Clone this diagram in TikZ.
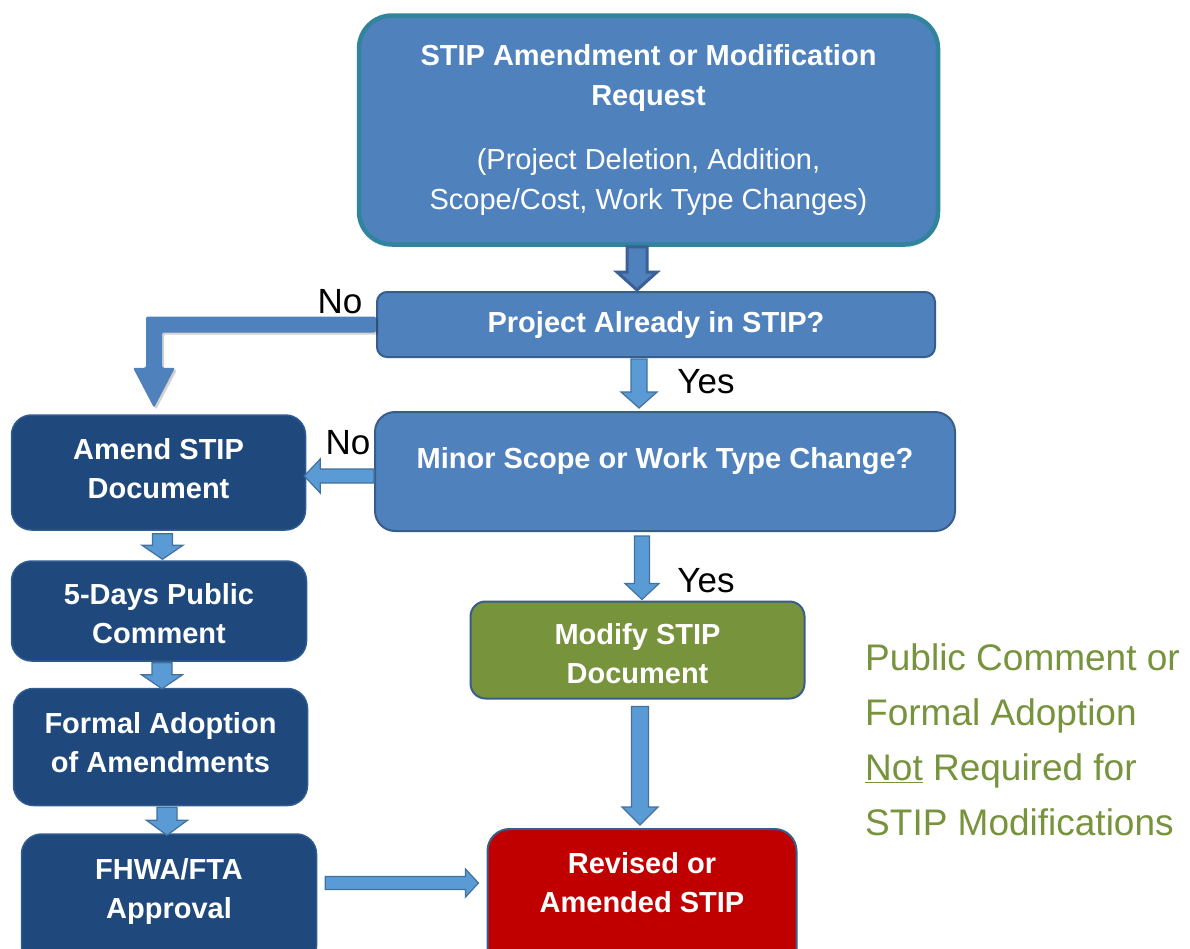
\documentclass[tikz,border=0pt]{standalone}
\usepackage{fontspec}
\setmainfont{Liberation Sans}
\usetikzlibrary{calc,shadows}
\definecolor{medblue}{HTML}{4F81BD}
\definecolor{medborder}{HTML}{385D8A}
\definecolor{tealborder}{HTML}{31849B}
\definecolor{darkb}{HTML}{1F497D}
\definecolor{darkborder}{HTML}{2F5B8F}
\definecolor{oliveb}{HTML}{77933C}
\definecolor{redb}{HTML}{C00000}
\definecolor{arrfill}{HTML}{5B9BD5}
\definecolor{arrdraw}{HTML}{41719C}
\definecolor{toparrdraw}{HTML}{3A6095}
\newcommand{\varr}[6]{\path[#1] let \p1=(#2), \p2=(#3) in
  (\x1-#4,\y1) -- (\x1+#4,\y1) -- (\x1+#4,\y2+#6) -- (\x1+#5,\y2+#6) -- (\x1,\y2)
  -- (\x1-#5,\y2+#6) -- (\x1-#4,\y2+#6) -- cycle;}
\newcommand{\harr}[6]{\path[#1] let \p1=(#2), \p2=(#3) in
  (\x1,\y1+#4) -- ({\x2-(#6)},\y1+#4) -- ({\x2-(#6)},\y1+#5) -- (\x2,\y1)
  -- ({\x2-(#6)},\y1-#5) -- ({\x2-(#6)},\y1-#4) -- (\x1,\y1-#4) -- cycle;}
\begin{document}
\begin{tikzpicture}[x=1pt,y=-1pt,
  boxbase/.style={draw, align=center, text=white, inner sep=0pt,
    font=\fontsize{29pt}{39pt}\selectfont\bfseries},
  medbox/.style={boxbase, fill=medblue, draw=medborder, line width=2pt},
  darkbox/.style={boxbase, fill=darkb, draw=darkborder, line width=1.5pt, rounded corners=20pt},
  boxtext/.style={align=center, text=white, inner sep=0pt,
    font=\fontsize{29pt}{39pt}\selectfont\bfseries},
  lbl/.style={text=black, inner sep=0pt, font=\fontsize{35pt}{42pt}\selectfont},
  arr/.style={fill=arrfill, draw=arrdraw, line width=1.2pt, line join=miter},
  toparr/.style={fill=medblue, draw=toparrdraw, line width=3pt},
  elb/.style={fill=medblue, rounded corners=2pt,
    drop shadow={shadow xshift=2pt, shadow yshift=-2pt, opacity=0.18, fill=black}}
]
\useasboundingbox (0,0) rectangle (1190,948);
\fill[white] (0,0) rectangle (1190,948);

% boxes
\node[boxbase, fill=medblue, draw=tealborder, line width=4.5pt, rounded corners=33pt,
  minimum width=579pt, minimum height=229pt,
  font=\fontsize{29pt}{40pt}\selectfont\bfseries] (top) at (648.5,130)
  {STIP Amendment or Modification\\Request\\[24pt]{\mdseries (Project Deletion, Addition,}\\{\mdseries Scope/Cost, Work Type Changes)}};
\node[medbox, rounded corners=10pt, minimum width=558pt, minimum height=65pt] (project) at (656,324.5)
  {Project Already in STIP?};
\node[medbox, rounded corners=20pt, minimum width=580pt, minimum height=119pt,
  text height=21pt, text depth=27pt] (minor) at (665,471.5)
  {Minor Scope or Work Type Change?};
\node[darkbox, minimum width=294pt, minimum height=115pt] (amend) at (158.5,472.5) {};
\node[boxtext] (amendt) at (158.5,468.5) {Amend STIP\\Document};
\node[darkbox, minimum width=295pt, minimum height=100pt] (days) at (159,611) {};
\node[boxtext] (dayst) at (159,614) {5-Days Public\\Comment};
\node[darkbox, minimum width=294pt, minimum height=117pt] (formal) at (160.5,747) {};
\node[boxtext] (formalt) at (160.5,743) {Formal Adoption\\of Amendments};
\node[darkbox, minimum width=295pt, minimum height=132pt] (fhwa) at (169,900) {};
\node[boxtext] (fhwat) at (169,891) {FHWA/FTA\\Approval};
\node[boxbase, fill=oliveb, draw=medborder, line width=2pt, rounded corners=15pt,
  minimum width=334pt, minimum height=97pt] (modify) at (637.5,650) {};
\node[boxtext] (modifyt) at (637.5,653.5) {Modify STIP\\Document};
\node[boxbase, fill=redb, draw=medborder, line width=2pt, rounded corners=22pt,
  minimum width=309pt, minimum height=142pt] (revised) at (642,900) {};
\node[boxtext] (revisedt) at (642,883) {Revised or\\Amended STIP};

% connectors
\varr{toparr}{[xshift=-11.5pt]top.south}{[yshift=1pt]project.north}{10pt}{20pt}{18pt}
\varr{arr}{[xshift=-17pt,yshift=-1pt]project.south}{[yshift=3pt]minor.north}{8pt}{18pt}{16pt}
\path[elb] let \p1=(project.west), \p2=([xshift=-4.5pt,yshift=6.5pt]amend.north) in
  (\x1,\y1+8pt) -- (\x2-8pt,\y1+8pt) -- (\x2-8pt,\y2+40pt) -- (\x2-21pt,\y2+40pt)
  -- (\x2,\y2) -- (\x2+21pt,\y2+40pt) -- (\x2+8pt,\y2+40pt) -- (\x2+8pt,\y1-8pt)
  -- (\x1,\y1-8pt) -- cycle;
\harr{arr}{[yshift=-4.5pt]minor.west}{[xshift=-2pt]amend.east}{7pt}{17pt}{-16pt}
\varr{arr}{[xshift=-23pt,yshift=-4pt]minor.south}{[yshift=1pt]modify.north}{7.5pt}{17pt}{16pt}
\varr{arr}{[xshift=4pt,yshift=-3pt]amend.south}{[yshift=1pt]days.north}{10pt}{20.5pt}{14pt}
\varr{arr}{[xshift=3pt,yshift=-1pt]days.south}{[yshift=-1pt]formal.north}{10pt}{20.5pt}{14pt}
\varr{arr}{[xshift=6.5pt,yshift=-1pt]formal.south}{[yshift=-2pt]fhwa.north}{10pt}{20.5pt}{15pt}
\varr{arr}{[xshift=2.5pt,yshift=-7pt]modify.south}{[yshift=3pt]revised.north}{8.5pt}{18pt}{18pt}
\harr{arr}{[xshift=8pt,yshift=17pt]fhwa.east}{[xshift=-8pt,yshift=17pt]revised.west}{6.5pt}{14pt}{13pt}

% labels
\node[lbl] (no1) at (340,302) {No};
\node[lbl] (yes1) at (706,382) {Yes};
\node[lbl] (no2) at (348,443) {No};
\node[lbl] (yes2) at (706,581) {Yes};

\node[anchor=north west, align=left, text=oliveb, inner sep=0pt,
  font=\fontsize{37pt}{55pt}\selectfont] (note) at (865,643)
  {Public Comment or\\Formal Adoption\\\underline{Not} Required for\\STIP Modifications};
\end{tikzpicture}
\end{document}
